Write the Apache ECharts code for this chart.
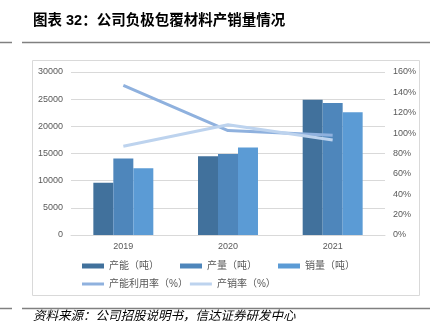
<!DOCTYPE html>
<html><head><meta charset="utf-8">
<script src="https://cdn.jsdelivr.net/npm/echarts@6/dist/echarts.min.js"></script>
<style>html,body{margin:0;padding:0;background:#fff}#c{width:437px;height:332px}</style>
</head><body><div id="c"></div>
<script>
const categories = ['2019', '2020', '2021'];
const capacity = [9600, 14500, 24900];
const production = [14100, 14900, 24300];
const sales = [12300, 16100, 22600];
const utilization = [146.9, 102.5, 97.8];
const salesRate = [87.2, 108.3, 93.2];
const leftTicks = [0, 30000, 5000];
const rightTicks = [0, 160, 20];

const FONT = '"Liberation Sans","Noto Sans CJK SC",sans-serif';
const chart = echarts.init(document.getElementById('c'), null, {renderer: 'canvas'});
const legendText = {color: '#595959', fontSize: 10, fontFamily: FONT};
chart.setOption({
  animation: false,
  textStyle: {fontFamily: FONT},
  grid: {left: 71, right: 52, top: 72, bottom: 97},
  legend: [
    {data: ['产能（吨）', '产量（吨）', '销量（吨）'], left: 77, top: 256, itemWidth: 22, itemHeight: 5,
     itemGap: 21, textStyle: legendText, icon: 'rect'},
    {data: ['产能利用率（%）', '产销率（%）'], left: 77, top: 274, itemWidth: 22, itemHeight: 3,
     itemGap: 2, textStyle: legendText, icon: 'rect'}
  ],
  xAxis: {type: 'category', data: categories,
    axisLine: {lineStyle: {color: '#D9D9D9'}}, axisTick: {show: false},
    axisLabel: {color: '#595959', fontSize: 9, margin: 7}},
  yAxis: [
    {type: 'value', min: leftTicks[0], max: leftTicks[1], interval: leftTicks[2],
     axisLabel: {color: '#595959', fontSize: 9, margin: 8, formatter: v => String(v)},
     splitLine: {lineStyle: {color: '#D9D9D9'}}, axisLine: {show: false}, axisTick: {show: false}},
    {type: 'value', min: rightTicks[0], max: rightTicks[1], interval: rightTicks[2],
     axisLabel: {color: '#595959', fontSize: 9, margin: 8, formatter: '{value}%'},
     splitLine: {show: false}, axisLine: {show: false}, axisTick: {show: false}}
  ],
  series: [
    {name: '产能（吨）', type: 'bar', data: capacity, barGap: '0%', barCategoryGap: '42.7%', itemStyle: {color: '#41719C'}},
    {name: '产量（吨）', type: 'bar', data: production, itemStyle: {color: '#4E86BB'}},
    {name: '销量（吨）', type: 'bar', data: sales, itemStyle: {color: '#5B9BD5'}},
    {name: '产能利用率（%）', type: 'line', yAxisIndex: 1, data: utilization, symbol: 'none',
     lineStyle: {color: '#8FB1DE', width: 3}, itemStyle: {color: '#8FB1DE'}},
    {name: '产销率（%）', type: 'line', yAxisIndex: 1, data: salesRate, symbol: 'none',
     lineStyle: {color: '#BDD3EE', width: 3}, itemStyle: {color: '#BDD3EE'}}
  ],
  graphic: [
    {type: 'text', left: 33, top: 14, style: {text: '图表 32：公司负极包覆材料产销量情况', fill: '#000', font: 'bold 14.5px ' + FONT}},
    {type: 'line', shape: {x1: 0, y1: 42.5, x2: 12, y2: 42.5}, style: {stroke: '#808080', lineWidth: 1.5}},
    {type: 'line', shape: {x1: 22, y1: 42.5, x2: 430, y2: 42.5}, style: {stroke: '#808080', lineWidth: 1.5}},
    {type: 'rect', shape: {x: 32.5, y: 60.5, width: 387, height: 235}, style: {fill: 'none', stroke: '#D9D9D9', lineWidth: 1}},
    {type: 'line', shape: {x1: 0, y1: 308.5, x2: 12, y2: 308.5}, style: {stroke: '#808080', lineWidth: 1.5}},
    {type: 'line', shape: {x1: 22, y1: 308.5, x2: 430, y2: 308.5}, style: {stroke: '#808080', lineWidth: 1.5}},
    {type: 'text', left: 33, top: 310, style: {text: '资料来源：公司招股说明书，信达证券研发中心', fill: '#000', font: 'italic 12.5px ' + FONT}}
  ]
});
</script></body></html>
